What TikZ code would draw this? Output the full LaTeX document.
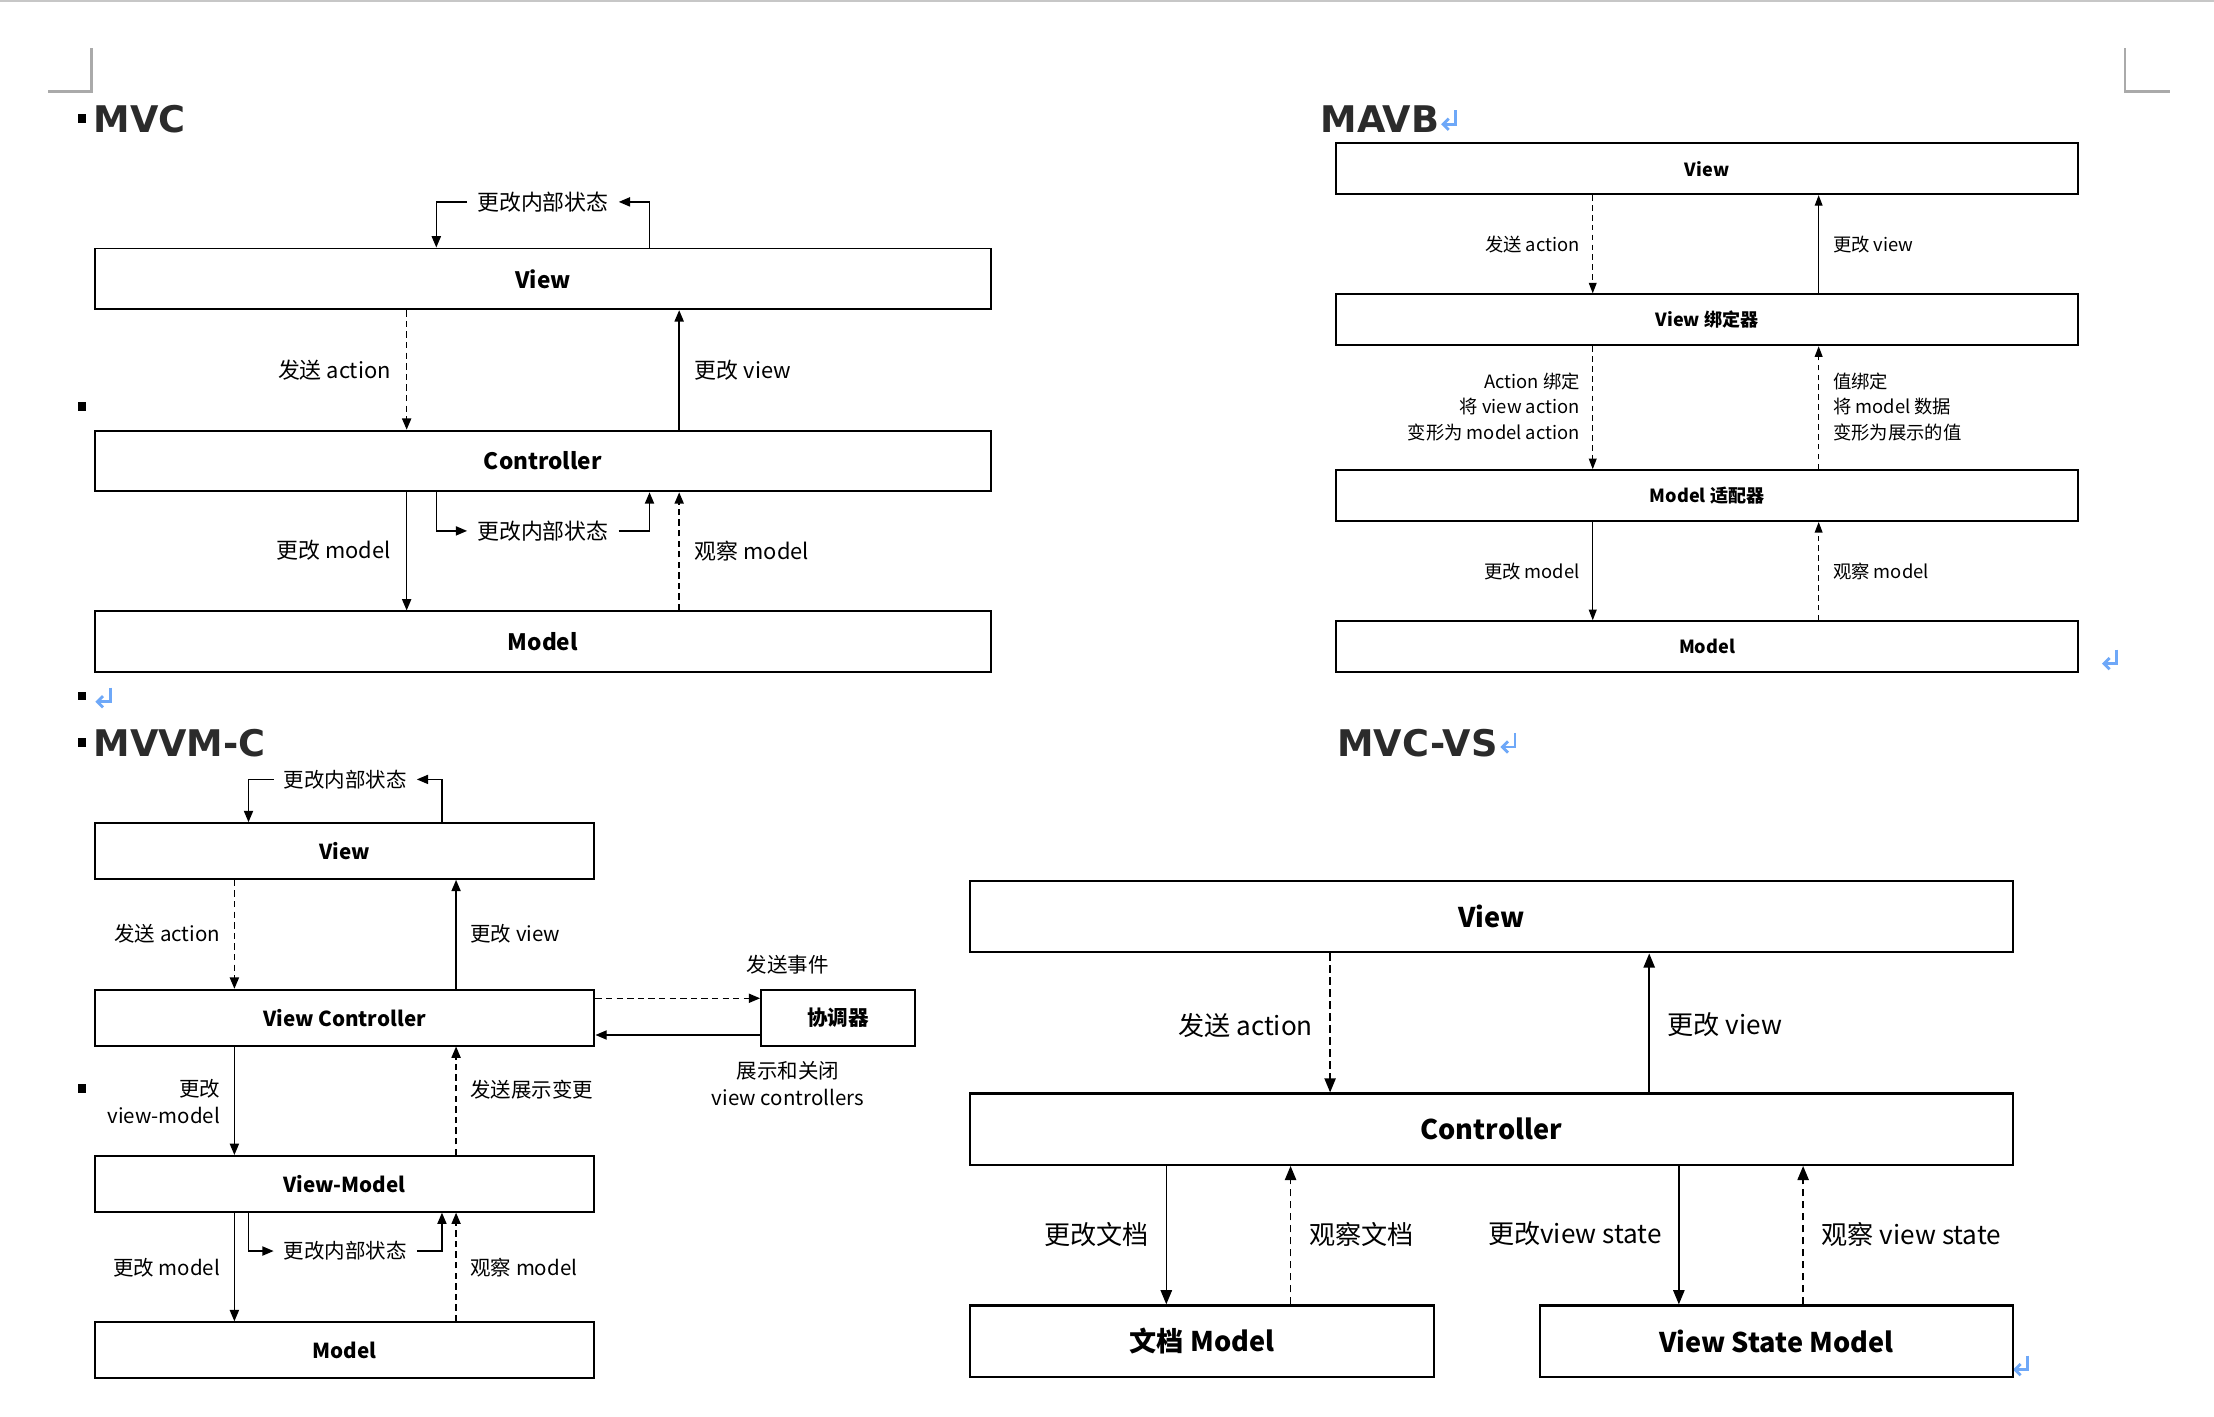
\documentclass[tikz,border=0pt]{standalone}
\usepackage{fontspec}
\setmainfont{Noto Sans CJK SC}
\newfontfamily\headfont{DejaVu Sans}
\usetikzlibrary{arrows.meta}
\definecolor{retblue}{RGB}{110,168,248}
\definecolor{headgray}{RGB}{43,43,43}
\definecolor{markgray}{RGB}{170,170,170}

\begin{document}
\begin{tikzpicture}[x=1pt,y=-1pt,
  box/.style={draw, rectangle, inner sep=0pt, line width=1.4pt},
  head/.style={anchor=base west, inner sep=0pt, text=headgray,
    font=\headfont\fontsize{26}{30}\selectfont\bfseries},
  lbl/.style={inner sep=0pt},
  % size variants per diagram
  mvcbox/.style={box, font=\fontsize{16}{19}\selectfont\bfseries},
  mvclbl/.style={lbl, font=\fontsize{15.5}{18}\selectfont},
  mavbbox/.style={box, font=\fontsize{12.8}{15}\selectfont\bfseries},
  mavblbl/.style={lbl, font=\fontsize{13}{18}\selectfont},
  mvvmbox/.style={box, font=\fontsize{14.6}{17}\selectfont\bfseries},
  mvvmlbl/.style={lbl, font=\fontsize{14.5}{19.5}\selectfont},
  vsbox/.style={box, line width=1.6pt, font=\fontsize{19.2}{23}\selectfont\bfseries},
  vslbl/.style={lbl, font=\fontsize{18.5}{22}\selectfont},
  % connectors
  flowA/.style={line width=1pt, -{Triangle[length=8pt,width=6.5pt]}},
  dashA/.style={flowA, dash pattern=on 4.5pt off 3pt},
  flowB/.style={line width=0.9pt, -{Triangle[length=7.5pt,width=5.5pt]}},
  dashB/.style={flowB, dash pattern=on 4pt off 3pt},
  flowC/.style={line width=1.1pt, -{Triangle[length=10pt,width=8pt]}},
  dashC/.style={flowC, dash pattern=on 5pt off 3.5pt},
  retmark/.pic={
    \draw[retblue, line width=2pt] (4,-7) -- (4,3) -- (-5,3);
    \draw[retblue, line width=2pt, line join=miter] (-1,-1) -- (-5,3) -- (-1,7);
  },
]
\useasboundingbox (0,0) rectangle (1568,1003);

% page frame marks
\fill[black!22] (0,0) rectangle (1568,1.4);
\draw[markgray, line width=2pt] (34,65) -- (65,65) -- (65,34);
\draw[markgray, line width=2pt] (1505,34) -- (1505,65) -- (1537,65);

% paragraph bullets
\foreach \yy in {84,288,493,526,771}
  \fill (55,\yy-3) rectangle (61,\yy+3);

% return marks
\pic at (1027,85) {retmark};
\pic at (1495,467) {retmark};
\pic at (74,494) {retmark};
\pic at (1069,526) {retmark};
\pic at (1432,967) {retmark};

%% ---------------- MVC ----------------
\node[head] (tMVC) at (66,94) {MVC};
\node[mvcbox, minimum width=635pt, minimum height=43pt] (mvcV) at (384.5,197.5) {View};
\node[mvcbox, minimum width=635pt, minimum height=43pt] (mvcC) at (384.5,326.5) {Controller};
\node[mvcbox, minimum width=635pt, minimum height=43pt] (mvcM) at (384.5,454.5) {Model};

\node[mvclbl, inner xsep=7pt] (mvcS1) at (384.5,143) {更改内部状态};
\node[mvclbl, inner xsep=7pt] (mvcS2) at (384.5,376) {更改内部状态};
\node[mvclbl, anchor=east] (mvcL1) at (277,262) {发送 action};
\node[mvclbl, anchor=west] (mvcL2) at (492,262) {更改 view};
\node[mvclbl, anchor=east] (mvcL3) at (277,390) {更改 model};
\node[mvclbl, anchor=west] (mvcL4) at (492,390) {观察 model};

\draw[flowA] (mvcV.north -| 460,0) |- (mvcS1.east);
\draw[flowA] (mvcS1.west) -| (mvcV.north -| 309,0);
\draw[dashA] (mvcV.south -| 288,0) -- (mvcC.north -| 288,0);
\draw[flowA] (mvcC.north -| 481,0) -- (mvcV.south -| 481,0);
\draw[flowA] (mvcC.south -| 288,0) -- (mvcM.north -| 288,0);
\draw[dashA] (mvcM.north -| 481,0) -- (mvcC.south -| 481,0);
\draw[flowA] (mvcC.south -| 309,0) |- (mvcS2.west);
\draw[flowA] (mvcS2.east) -| (mvcC.south -| 460,0);

%% ---------------- MAVB ----------------
\node[head] (tMAVB) at (935,94) {MAVB};
\node[mavbbox, minimum width=526pt, minimum height=36pt] (mbV) at (1209,119.5) {View};
\node[mavbbox, minimum width=526pt, minimum height=36pt] (mbB) at (1209,226.5) {View 绑定器};
\node[mavbbox, minimum width=526pt, minimum height=36pt] (mbA) at (1209,351) {Model 适配器};
\node[mavbbox, minimum width=526pt, minimum height=36pt] (mbM) at (1209,458) {Model};

\node[mavblbl, anchor=east] (mbL1) at (1119,173) {发送 action};
\node[mavblbl, anchor=west] (mbL2) at (1298,173) {更改 view};
\node[mavblbl, anchor=east, align=right] (mbL3) at (1119,288) {Action 绑定\\将 view action\\变形为 model action};
\node[mavblbl, anchor=west, align=left] (mbL4) at (1298,288) {值绑定\\将 model 数据\\变形为展示的值};
\node[mavblbl, anchor=east] (mbL5) at (1119,405) {更改 model};
\node[mavblbl, anchor=west] (mbL6) at (1298,405) {观察 model};

\draw[dashB] (mbV.south -| 1128,0) -- (mbB.north -| 1128,0);
\draw[flowB] (mbB.north -| 1288,0) -- (mbV.south -| 1288,0);
\draw[dashB] (mbB.south -| 1128,0) -- (mbA.north -| 1128,0);
\draw[dashB] (mbA.north -| 1288,0) -- (mbB.south -| 1288,0);
\draw[flowB] (mbA.south -| 1128,0) -- (mbM.north -| 1128,0);
\draw[dashB] (mbM.north -| 1288,0) -- (mbA.south -| 1288,0);

%% ---------------- MVVM-C ----------------
\node[head] (tMVVM) at (66,536) {MVVM-C};
\node[mvvmbox, minimum width=354pt, minimum height=39.5pt] (vmV) at (244,602.7) {View};
\node[mvvmbox, minimum width=354pt, minimum height=39.5pt] (vmVC) at (244,720.7) {View Controller};
\node[mvvmbox, minimum width=354pt, minimum height=39.5pt] (vmVM) at (244,838.4) {View-Model};
\node[mvvmbox, minimum width=354pt, minimum height=39.5pt] (vmM) at (244,956.2) {Model};
\node[mvvmbox, minimum width=109pt, minimum height=39.5pt] (vmCo) at (593.5,720.7) {协调器};

\node[mvvmlbl, inner xsep=7pt] (vmS1) at (244.5,552) {更改内部状态};
\node[mvvmlbl, inner xsep=7pt] (vmS2) at (244.5,886) {更改内部状态};
\node[mvvmlbl, anchor=east] (vmL1) at (156,661) {发送 action};
\node[mvvmlbl, anchor=west] (vmL2) at (333,661) {更改 view};
\node[mvvmlbl, anchor=east, align=right] (vmL3) at (156,780) {更改\\view-model};
\node[mvvmlbl, anchor=west] (vmL4) at (333,772) {发送展示变更};
\node[mvvmlbl, anchor=east] (vmL5) at (156,898) {更改 model};
\node[mvvmlbl, anchor=west] (vmL6) at (333,898) {观察 model};
\node[mvvmlbl] (vmL7) at (558,683) {发送事件};
\node[mvvmlbl, align=center] (vmL8) at (558,767.5) {展示和关闭\\view controllers};

\draw[flowA] (vmV.north -| 313,0) |- (vmS1.east);
\draw[flowA] (vmS1.west) -| (vmV.north -| 176,0);
\draw[dashA] (vmV.south -| 166,0) -- (vmVC.north -| 166,0);
\draw[flowA] (vmVC.north -| 323,0) -- (vmV.south -| 323,0);
\draw[flowA] (vmVC.south -| 166,0) -- (vmVM.north -| 166,0);
\draw[dashA] (vmVM.north -| 323,0) -- (vmVC.south -| 323,0);
\draw[flowA] (vmVM.south -| 166,0) -- (vmM.north -| 166,0);
\draw[dashA] (vmM.north -| 323,0) -- (vmVM.south -| 323,0);
\draw[flowA] (vmVM.south -| 176,0) |- (vmS2.west);
\draw[flowA] (vmS2.east) -| (vmVM.south -| 313,0);
\draw[dashA] (vmVC.east |- 0,707) -- (vmCo.west |- 0,707);
\draw[flowA] (vmCo.west |- 0,733) -- (vmVC.east |- 0,733);

%% ---------------- MVC-VS ----------------
\node[head] (tVS) at (947,536) {MVC-VS};
\node[vsbox, minimum width=738.5pt, minimum height=50.5pt] (vsV) at (1056.2,649.2) {View};
\node[vsbox, minimum width=738.5pt, minimum height=50.5pt] (vsC) at (1056.2,799.7) {Controller};
\node[vsbox, minimum width=328.6pt, minimum height=50.5pt] (vsD) at (851.3,949.8) {文档 Model};
\node[vsbox, minimum width=335pt, minimum height=50.5pt] (vsS) at (1258,949.8) {View State Model};

\node[vslbl, anchor=east] (vsL1) at (930,726) {发送 action};
\node[vslbl, anchor=west] (vsL2) at (1181,726) {更改 view};
\node[vslbl, anchor=east] (vsL3) at (814,874) {更改文档};
\node[vslbl, anchor=west] (vsL4) at (927,874) {观察文档};
\node[vslbl, anchor=east] (vsL5) at (1177,874) {更改view state};
\node[vslbl, anchor=west] (vsL6) at (1290,874) {观察 view state};

\draw[dashC] (vsV.south -| 942,0) -- (vsC.north -| 942,0);
\draw[flowC] (vsC.north -| 1168,0) -- (vsV.south -| 1168,0);
\draw[flowC] (vsC.south -| 826,0) -- (vsD.north -| 826,0);
\draw[dashC] (vsD.north -| 914,0) -- (vsC.south -| 914,0);
\draw[flowC] (vsC.south -| 1189,0) -- (vsS.north -| 1189,0);
\draw[dashC] (vsS.north -| 1277,0) -- (vsC.south -| 1277,0);

\end{tikzpicture}
\end{document}
